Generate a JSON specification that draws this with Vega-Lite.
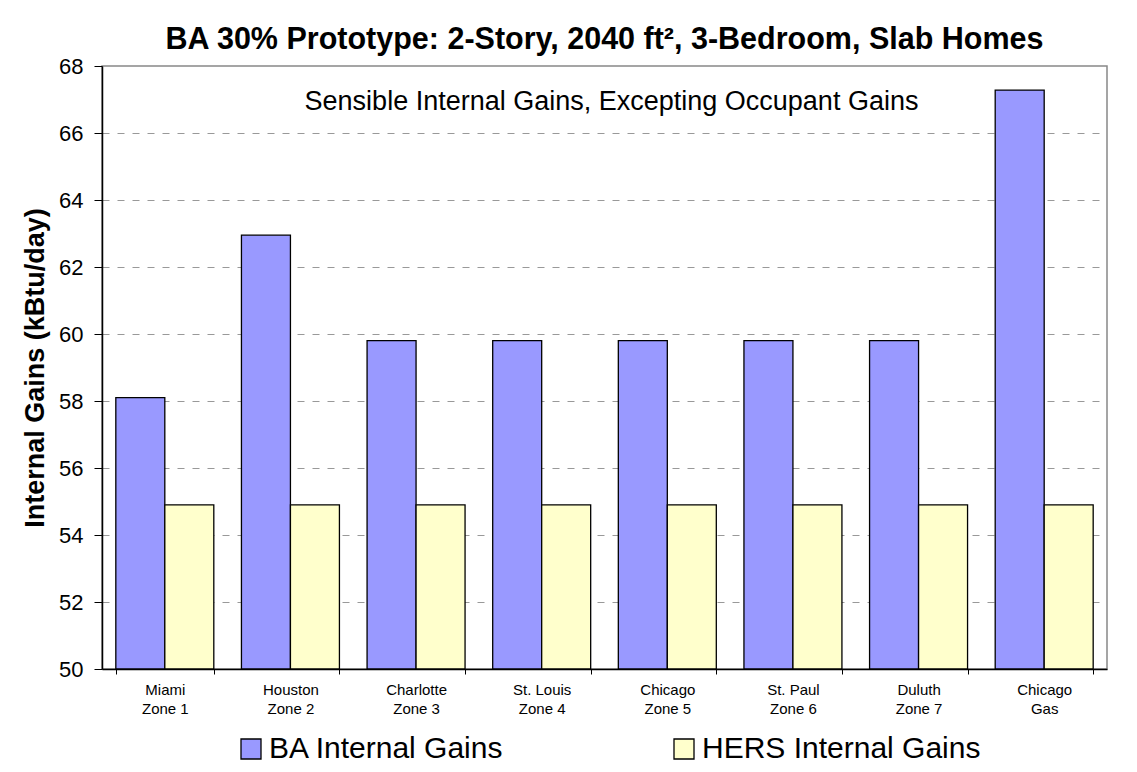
{
  "$schema": "https://vega.github.io/schema/vega-lite/v6.json",
  "width": 1005,
  "height": 603,
  "autosize": "none",
  "padding": {"left": 102, "top": 66, "right": 30, "bottom": 103},
  "background": "white",
  "title": {
    "text": "BA 30% Prototype: 2-Story, 2040 ft², 3-Bedroom, Slab Homes",
    "font": "Liberation Sans",
    "fontSize": 30.5,
    "fontWeight": "bold",
    "color": "black",
    "anchor": "middle",
    "offset": 0
  },
  "data": {
    "values": [
      {"city": "Miami|Zone 1", "series": "BA Internal Gains", "value": 58.1},
      {"city": "Miami|Zone 1", "series": "HERS Internal Gains", "value": 54.9},
      {"city": "Houston|Zone 2", "series": "BA Internal Gains", "value": 62.95},
      {"city": "Houston|Zone 2", "series": "HERS Internal Gains", "value": 54.9},
      {"city": "Charlotte|Zone 3", "series": "BA Internal Gains", "value": 59.8},
      {"city": "Charlotte|Zone 3", "series": "HERS Internal Gains", "value": 54.9},
      {"city": "St. Louis|Zone 4", "series": "BA Internal Gains", "value": 59.8},
      {"city": "St. Louis|Zone 4", "series": "HERS Internal Gains", "value": 54.9},
      {"city": "Chicago|Zone 5", "series": "BA Internal Gains", "value": 59.8},
      {"city": "Chicago|Zone 5", "series": "HERS Internal Gains", "value": 54.9},
      {"city": "St. Paul|Zone 6", "series": "BA Internal Gains", "value": 59.8},
      {"city": "St. Paul|Zone 6", "series": "HERS Internal Gains", "value": 54.9},
      {"city": "Duluth|Zone 7", "series": "BA Internal Gains", "value": 59.8},
      {"city": "Duluth|Zone 7", "series": "HERS Internal Gains", "value": 54.9},
      {"city": "Chicago|Gas", "series": "BA Internal Gains", "value": 67.28},
      {"city": "Chicago|Gas", "series": "HERS Internal Gains", "value": 54.9}
    ]
  },
  "layer": [
    {
      "mark": {"type": "bar", "stroke": "black", "strokeWidth": 1.3},
      "encoding": {
        "x": {
          "field": "city",
          "type": "nominal",
          "sort": null,
          "scale": {"paddingInner": 0.22, "paddingOuter": 0.11},
          "axis": {
            "title": null,
            "labelAngle": 0,
            "labelExpr": "datum.value ? split(datum.value, '|') : ''",
            "labelFont": "Liberation Sans",
            "labelFontSize": 15,
            "labelColor": "black",
            "labelPadding": 8,
            "labelLineHeight": 19,
            "tickBand": "extent",
            "tickSize": 5,
            "tickColor": "black",
            "domainColor": "black",
            "domainWidth": 1.5,
            "grid": false
          }
        },
        "xOffset": {"field": "series", "type": "nominal", "scale": {"paddingInner": 0, "paddingOuter": 0}},
        "y": {
          "field": "value",
          "type": "quantitative",
          "scale": {"domain": [50, 68], "zero": false, "nice": false},
          "axis": {
            "title": "Internal Gains  (kBtu/day)",
            "titleFont": "Liberation Sans",
            "titleFontSize": 27,
            "titleFontWeight": "bold",
            "titleColor": "black",
            "titlePadding": 9,
            "values": [50, 51, 52, 53, 54, 55, 56, 57, 58, 59, 60, 61, 62, 63, 64, 65, 66, 67, 68],
            "labelExpr": "datum.value % 2 == 0 ? datum.label : ''",
            "labelFont": "Liberation Sans",
            "labelFontSize": 22,
            "labelColor": "black",
            "labelPadding": 11,
            "tickSize": {"condition": {"test": "datum.value % 2 == 1", "value": -7}, "value": 8},
            "tickColor": "black",
            "domainColor": "black",
            "domainWidth": 1.5,
            "grid": true,
            "gridDash": [7, 8],
            "gridColor": "#999999",
            "gridOpacity": {"condition": {"test": "datum.value % 2 == 1 || datum.value == 68 || datum.value == 50", "value": 0}, "value": 1}
          }
        },
        "y2": {"datum": 50},
        "color": {
          "field": "series",
          "type": "nominal",
          "scale": {"range": ["#9999FF", "#FFFFCC"]},
          "legend": {
            "title": null,
            "orient": "none",
            "legendX": 134,
            "legendY": 668,
            "direction": "horizontal",
            "labelFont": "Liberation Sans",
            "labelFontSize": 30,
            "labelColor": "black",
            "labelLimit": 400,
            "labelOffset": 3,
            "symbolType": "square",
            "symbolSize": 400,
            "symbolStrokeColor": "black",
            "symbolStrokeWidth": 1.3,
            "symbolOpacity": 1,
            "columnPadding": 164
          }
        }
      }
    },
    {
      "data": {"values": [{"label": "Sensible Internal Gains, Excepting Occupant Gains", "y": 66.93}]},
      "mark": {"type": "text", "font": "Liberation Sans", "fontSize": 27, "color": "black", "dx": 7},
      "encoding": {
        "text": {"field": "label"},
        "y": {"field": "y", "type": "quantitative"}
      }
    }
  ],
  "config": {
    "view": {"stroke": "#888888", "strokeWidth": 1.5},
    "font": "Liberation Sans"
  }
}
